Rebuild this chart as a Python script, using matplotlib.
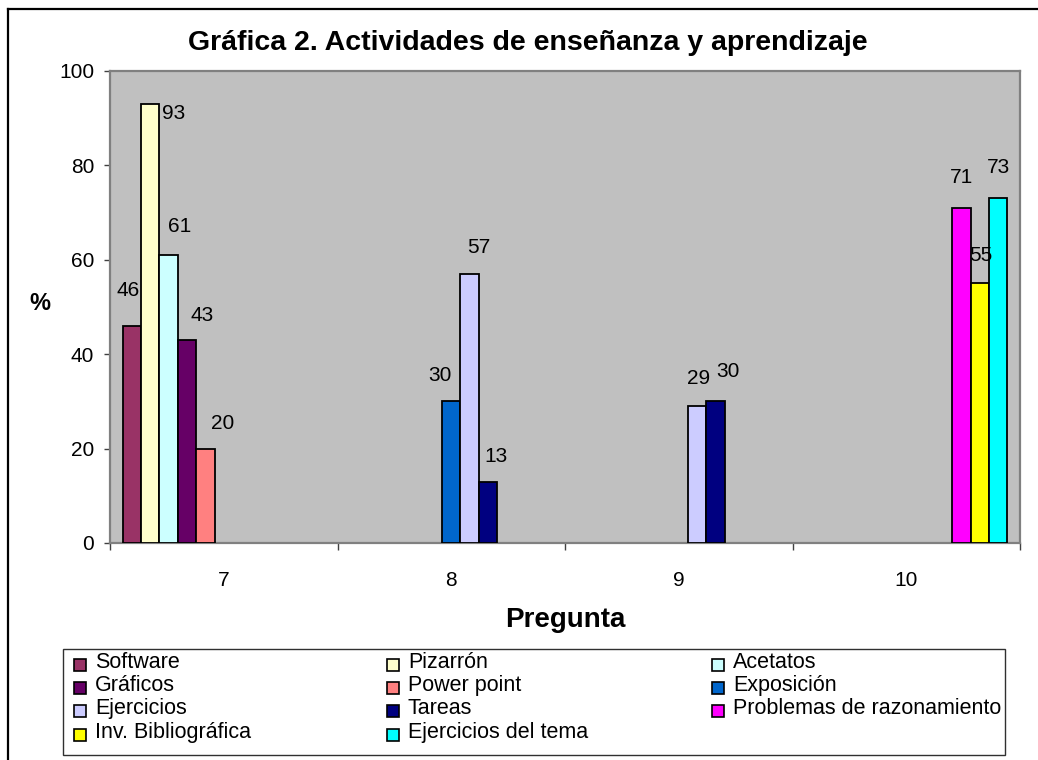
import numpy as np
import matplotlib
matplotlib.use("Agg")
import matplotlib.pyplot as plt
from matplotlib.patches import Rectangle
from matplotlib.lines import Line2D

plt.rcParams['font.family'] = ['Liberation Sans', 'DejaVu Sans']

categories = ["7", "8", "9", "10"]
series_names = ["Software", "Pizarrón", "Acetatos", "Gráficos", "Power point",
                "Exposición", "Ejercicios", "Tareas", "Problemas de razonamiento",
                "Inv. Bibliográfica", "Ejercicios del tema"]
nan = np.nan
software = [46, nan, nan, nan]
pizarron = [93, nan, nan, nan]
acetatos = [61, nan, nan, nan]
graficos = [43, nan, nan, nan]
power_point = [20, nan, nan, nan]
exposicion = [nan, 30, nan, nan]
ejercicios = [nan, 57, 29, nan]
tareas = [nan, 13, 30, nan]
problemas = [nan, nan, nan, 71]
inv_bibliografica = [nan, nan, nan, 55]
ejercicios_tema = [nan, nan, nan, 73]
values = [software, pizarron, acetatos, graficos, power_point, exposicion,
          ejercicios, tareas, problemas, inv_bibliografica, ejercicios_tema]
colors = ["#993366", "#FFFFCC", "#CCFFFF", "#660066", "#FF8080", "#0066CC",
          "#CCCCFF", "#000080", "#FF00FF", "#FFFF00", "#00FFFF"]

# label offsets in pixels (dx, dy) relative to bar top centre
label_offsets = {
    (0, 0): (-4, 35), (1, 0): (24, -9), (2, 0): (11, 29), (3, 0): (15, 25),
    (4, 0): (17, 25), (5, 1): (-11, 26), (6, 1): (9, 26), (7, 1): (8, 25),
    (6, 2): (1, 28), (7, 2): (12, 30), (8, 3): (0, 30), (9, 3): (1, 28),
    (10, 3): (0, 31),
}

W, H = 1038, 760
fig = plt.figure(figsize=(W / 100, H / 100), dpi=100)
L, R, T, B = 110, 1020, 71, 543
ax = fig.add_axes([L / W, 1 - B / H, (R - L) / W, (B - T) / H])
ax.set_facecolor("#C0C0C0")

cat_w = 227.5
bw = 18.4 / cat_w
start = -0.5 + 12.5 / cat_w
x = np.arange(len(categories))
for i, (vals, c) in enumerate(zip(values, colors)):
    pos = x + start + i * bw + bw / 2
    ax.bar(pos, vals, width=bw, color=c, edgecolor="black", linewidth=1.3, zorder=3)
    for j, v in enumerate(vals):
        if np.isnan(v):
            continue
        dx, dy = label_offsets.get((i, j), (0, 27))
        ax.annotate(f"{v:.0f}", (pos[j], v), xytext=(dx * 0.72, dy * 0.72),
                    textcoords="offset points", ha="center", va="center",
                    fontsize=15, color="black", zorder=4)

ax.set_xlim(-0.5, len(categories) - 0.5)
ax.set_ylim(0, 100)
ax.set_yticks([0, 20, 40, 60, 80, 100])
ax.tick_params(axis="y", direction="out", length=4.5, width=1, color="#404040",
               labelsize=15, pad=7)
ax.set_xticks(x)
ax.set_xticklabels(categories)
ax.set_xticks(np.arange(-0.5, len(categories)), minor=True)
ax.tick_params(axis="x", which="major", length=0, labelsize=15, pad=20)
ax.tick_params(axis="x", which="minor", direction="out", length=5, width=1, color="#404040")
for s in ax.spines.values():
    s.set_color("#808080")
    s.set_linewidth(1.6)

fig.text(40 / W, 1 - 303 / H, "%", fontsize=17, fontweight="bold",
         ha="center", va="center")
fig.text(528 / W, 1 - 43 / H, "Gráfica 2. Actividades de enseñanza y aprendizaje",
         fontsize=20.5, fontweight="bold", ha="center", va="center")
fig.text(565 / W, 1 - 620 / H, "Pregunta", fontsize=20, fontweight="bold",
         ha="center", va="center")

# outer frame
fig.add_artist(Line2D([8 / W, 1.0], [1 - 9 / H, 1 - 9 / H], color="black", lw=1.6,
                      transform=fig.transFigure))
fig.add_artist(Line2D([8 / W, 8 / W], [0, 1 - 9 / H], color="black", lw=1.6,
                      transform=fig.transFigure))

# legend (row-major, 3 columns)
fig.add_artist(Rectangle((63 / W, 1 - 755 / H), (1005 - 63) / W, (755 - 649) / H,
                         transform=fig.transFigure, facecolor="white",
                         edgecolor="#303030", lw=1.0))
col_text_x = [95, 408, 733]
row_base_y = [668, 691, 714, 738]
msize = 12
for k, (name, c) in enumerate(zip(series_names, colors)):
    r, col = divmod(k, 3)
    tx, by = col_text_x[col], row_base_y[r]
    fig.add_artist(Rectangle(((tx - 21) / W, 1 - (by + 3) / H), msize / W, msize / H,
                             transform=fig.transFigure, facecolor=c,
                             edgecolor="black", lw=1.2))
    fig.text(tx / W, 1 - by / H, name, fontsize=15.5, ha="left", va="baseline")

fig.savefig("out.png", dpi=100)
